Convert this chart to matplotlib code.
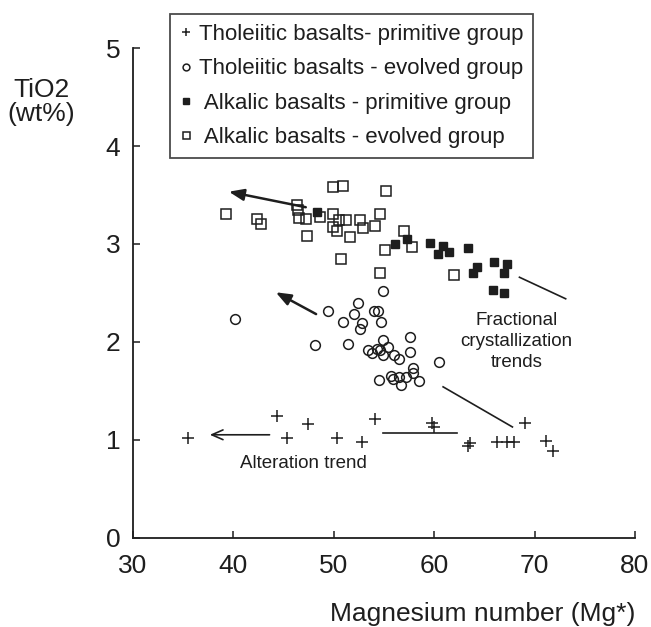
import matplotlib.pyplot as plt
import numpy as np

plt.rcParams['font.family'] = ['Liberation Sans', 'DejaVu Sans']
ink = '#1e1e1e'

# Tholeiitic basalts - primitive group (+)
tp_x = [35.5, 44.4, 45.4, 47.5, 50.3, 52.8, 54.1, 59.8, 60.0, 63.4, 63.6,
        66.3, 67.3, 68.0, 69.1, 71.1, 71.8]
tp_y = [1.02, 1.24, 1.02, 1.16, 1.02, 0.98, 1.21, 1.17, 1.13, 0.94, 0.97,
        0.98, 0.98, 0.98, 1.17, 0.99, 0.88]

# Tholeiitic basalts - evolved group (o)
te_x = [40.2, 54.9, 52.4, 49.4, 52.0, 54.0, 54.4, 50.9, 52.8, 52.6, 54.7,
        48.1, 51.4, 54.9, 57.6, 53.4, 53.8, 54.3, 54.6, 55.4, 54.9, 56.0,
        56.5, 57.6, 60.5, 54.5, 55.7, 55.9, 56.5, 56.7, 57.2, 57.9, 57.9, 58.5]
te_y = [2.23, 2.52, 2.40, 2.32, 2.28, 2.31, 2.31, 2.20, 2.19, 2.13, 2.20,
        1.97, 1.98, 2.02, 2.05, 1.92, 1.89, 1.93, 1.92, 1.95, 1.87, 1.87,
        1.82, 1.90, 1.79, 1.61, 1.65, 1.62, 1.64, 1.56, 1.64, 1.73, 1.68, 1.60]

# Alkalic basalts - primitive group (filled squares)
ap_x = [48.3, 56.1, 57.3, 59.6, 60.9, 60.4, 61.5, 63.4, 63.9, 64.3, 66.0,
        67.3, 67.0, 65.9, 67.0]
ap_y = [3.33, 3.00, 3.05, 3.01, 2.98, 2.90, 2.92, 2.96, 2.70, 2.76, 2.82,
        2.80, 2.70, 2.53, 2.50]

# Alkalic basalts - evolved group (open squares)
ae_x = [39.3, 42.4, 42.8, 46.4, 46.5, 46.6, 47.3, 47.4, 49.9, 50.9, 55.2,
        48.6, 49.9, 49.9, 50.3, 50.5, 51.2, 51.6, 52.6, 52.9, 54.1, 54.6,
        50.7, 54.6, 57.0, 55.1, 57.8, 62.0]
ae_y = [3.31, 3.26, 3.20, 3.40, 3.35, 3.27, 3.26, 3.08, 3.58, 3.59, 3.54,
        3.28, 3.31, 3.17, 3.13, 3.24, 3.24, 3.07, 3.25, 3.16, 3.18, 3.31,
        2.85, 2.70, 3.13, 2.94, 2.97, 2.68]

xticks = [30, 40, 50, 60, 70, 80]
yticks = [0, 1, 2, 3, 4, 5]

fig = plt.figure(figsize=(6.51, 6.27), dpi=100)
ax = fig.add_axes([0.2038, 0.1427, 0.7716, 0.7803])

h1, = ax.plot(tp_x, tp_y, ls='none', marker='+', ms=8, mew=1.1, color=ink,
              label='Tholeiitic basalts- primitive group')
h2, = ax.plot(te_x, te_y, ls='none', marker='o', ms=7, mew=1.1, mfc='none',
              mec=ink, label='Tholeiitic basalts - evolved group')
h3, = ax.plot(ap_x, ap_y, ls='none', marker='s', ms=5.2, color=ink,
              label=' Alkalic basalts - primitive group')
h4, = ax.plot(ae_x, ae_y, ls='none', marker='s', ms=7.2, mew=1.1, mfc='none',
              mec=ink, label=' Alkalic basalts - evolved group')

# trend arrows
ax.annotate('', xy=(39.3, 3.54), xytext=(47.5, 3.37),
            arrowprops=dict(arrowstyle='-|>,head_length=0.9,head_width=0.35',
                            lw=1.8, color=ink))
ax.annotate('', xy=(44.0, 2.52), xytext=(48.5, 2.27),
            arrowprops=dict(arrowstyle='-|>,head_length=0.9,head_width=0.35',
                            lw=1.8, color=ink))
ax.annotate('', xy=(37.4, 1.05), xytext=(43.9, 1.05),
            arrowprops=dict(arrowstyle='->,head_length=0.8,head_width=0.35',
                            lw=1.2, color=ink))
ax.plot([54.9, 62.3], [1.07, 1.07], color=ink, lw=1.2)
ax.plot([60.9, 67.8], [1.54, 1.13], color=ink, lw=1.2)
ax.plot([68.5, 73.1], [2.66, 2.44], color=ink, lw=1.2)

ax.text(68.2, 2.0, 'Fractional\ncrystallization\ntrends', ha='center',
        va='center', fontsize=13.5, color=ink, linespacing=1.3)
ax.text(47.0, 0.76, 'Alteration trend', ha='center', va='center',
        fontsize=13.5, color=ink)

ax.set_xlim(30, 80)
ax.set_ylim(0, 5)
ax.set_xticks(xticks)
ax.set_yticks(yticks)
ax.tick_params(direction='in', length=5, width=1.1, colors=ink,
               labelsize=19)
ax.tick_params(axis='x', pad=12)
ax.tick_params(axis='y', pad=9)
for s in ['top', 'right']:
    ax.spines[s].set_visible(False)
for s in ['left', 'bottom']:
    ax.spines[s].set_linewidth(1.3)
    ax.spines[s].set_color(ink)

ax.set_xlabel('Magnesium number (Mg*)', fontsize=19, color=ink,
              loc='right', labelpad=17)
fig.text(0.064, 0.838, 'TiO2\n(wt%)', ha='center', va='center', fontsize=19,
         color=ink, linespacing=1.0)

leg = fig.legend(handles=[h1, h2, h3, h4], loc='upper left',
                 bbox_to_anchor=(0.2611, 0.9777), fontsize=16,
                 frameon=True, fancybox=False, edgecolor=ink,
                 markerscale=0.7, handlelength=0.5, handletextpad=0.35,
                 labelspacing=0.6, borderpad=0.45, borderaxespad=0)
leg.get_frame().set_linewidth(1.3)
for t in leg.get_texts():
    t.set_color(ink)

fig.savefig('out.png', dpi=100)
